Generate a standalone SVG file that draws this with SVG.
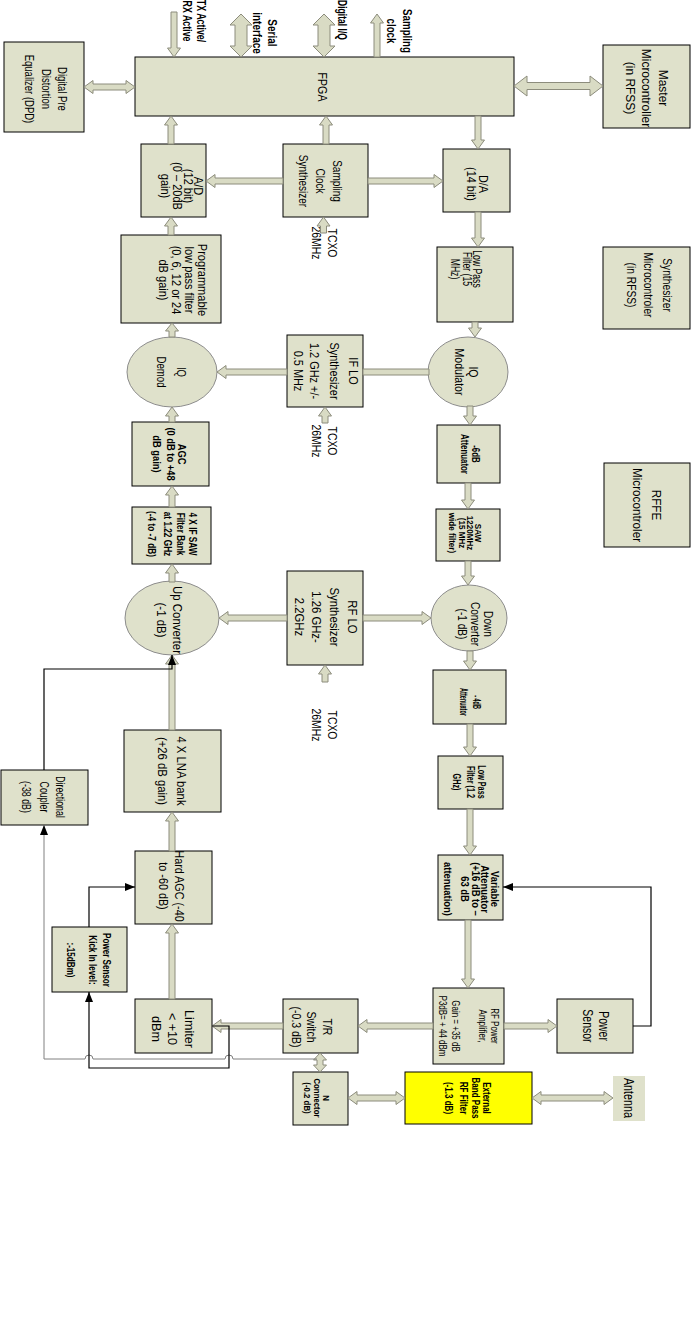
<svg xmlns="http://www.w3.org/2000/svg" width="691" height="1319" viewBox="0 0 691 1319">
<style>
.bx{fill:#dfe1cb;stroke:#000;stroke-width:1}
.el{fill:#dfe1cb;stroke:#8c8c8c;stroke-width:1}
.ar{fill:#d9dbc4;stroke:#8c8c7c;stroke-width:1}
.ln{fill:none;stroke:#000;stroke-width:1.2}
.gl{fill:none;stroke:#808080;stroke-width:1}
.t{font-family:"Liberation Sans",Arial,sans-serif;fill:#000;text-anchor:middle}
.b{font-weight:bold}
</style>
<defs>
<marker id="ah" markerWidth="10" markerHeight="8" refX="10" refY="4" orient="auto" markerUnits="userSpaceOnUse"><path d="M0,0 L10,4 L0,8 Z" fill="#000"/></marker>
</defs>
<rect width="691" height="1319" fill="#fff"/>

<g id="labels">
<g transform="translate(195,21) rotate(90) scale(0.68,1)"><text class="t b" font-size="13"><tspan x="0" y="-2.4">TX Active/</tspan><tspan x="0" y="12.1">RX Active</tspan></text></g>
<g transform="translate(266,33) rotate(90) scale(0.77,1)"><text class="t b" font-size="13"><tspan x="0" y="-2.4">Serial</tspan><tspan x="0" y="12.6">interface</tspan></text></g>
<g transform="translate(343,20) rotate(90) scale(0.66,1)"><text class="t b" font-size="13"><tspan x="0" y="4.6">Digital I/Q</tspan></text></g>
<g transform="translate(400,31) rotate(90) scale(0.75,1)"><text class="t b" font-size="13"><tspan x="0" y="-3.4">Sampling</tspan><tspan x="0" y="12.6">clock</tspan></text></g>
</g>

<g id="dpd"><rect class="bx" x="4" y="42" width="80" height="90"/><g transform="translate(46,89) rotate(90) scale(0.73,1)"><text class="t" font-size="13"><tspan x="0" y="-12.4">Digital Pre</tspan><tspan x="0" y="3.6">Distortion</tspan><tspan x="0" y="20.6">Equalizer (DPD)</tspan></text></g></g>
<g id="fpga"><rect class="bx" x="135" y="57" width="379" height="59"/><g transform="translate(323,87) rotate(90) scale(0.82,1)"><text class="t" font-size="13"><tspan x="0" y="4.6">FPGA</tspan></text></g></g>
<g id="master"><rect class="bx" x="603" y="45" width="87" height="83"/><g transform="translate(647,88) rotate(90) scale(0.92,1)"><text class="t" font-size="13"><tspan x="0" y="-12.4">Master</tspan><tspan x="0" y="4.6">Microcontroller</tspan><tspan x="0" y="20.6">(in RFSS)</tspan></text></g></g>
<g id="ad"><rect class="bx" x="141" y="144" width="65" height="73"/><g transform="translate(182,186) rotate(90) scale(0.92,1)"><text class="t" font-size="12"><tspan x="0" y="-11.8">A/D</tspan><tspan x="0" y="-1.8">(12 bit)</tspan><tspan x="0" y="9.2">(0 – 20dB</tspan><tspan x="0" y="21.2">gain)</tspan></text></g></g>
<g id="scs"><rect class="bx" x="283" y="144" width="85" height="73"/><g transform="translate(321,181) rotate(90) scale(0.77,1)"><text class="t" font-size="13"><tspan x="0" y="-12.4">Sampling</tspan><tspan x="0" y="4.6">Clock</tspan><tspan x="0" y="21.6">Synthesizer</tspan></text></g></g>
<g id="da"><rect class="bx" x="443" y="149" width="67" height="63"/><g transform="translate(477,184) rotate(90) scale(0.91,1)"><text class="t" font-size="12"><tspan x="0" y="-1.8">D/A</tspan><tspan x="0" y="10.2">(14 bit)</tspan></text></g></g>
<g id="tcxo1"><g transform="translate(325,243) rotate(90) scale(0.8,1)"><text class="t" font-size="13"><tspan x="0" y="-3.4">TCXO</tspan><tspan x="0" y="12.6">26MHz</tspan></text></g></g>
<g id="proglpf"><rect class="bx" x="121" y="235" width="100" height="88"/><g transform="translate(183,280) rotate(90) scale(0.92,1)"><text class="t" font-size="12"><tspan x="0" y="-14.8">Programmable</tspan><tspan x="0" y="-1.8">low pass filter</tspan><tspan x="0" y="11.2">(0, 6, 12 or 24</tspan><tspan x="0" y="24.2">dB gain)</tspan></text></g></g>
<g id="lpf15"><rect class="bx" x="437" y="247" width="76" height="75"/><g transform="translate(466,269) rotate(90) scale(0.72,1)"><text class="t" font-size="12"><tspan x="0" y="-6.8">Low Pass</tspan><tspan x="0" y="3.2">Filter (15</tspan><tspan x="0" y="15.2">MHz)</tspan></text></g></g>
<g id="synthmc"><rect class="bx" x="603" y="247" width="87" height="82"/><g transform="translate(649,285) rotate(90) scale(0.79,1)"><text class="t" font-size="13"><tspan x="0" y="-14.4">Synthesizer</tspan><tspan x="0" y="4.6">Microcontroler</tspan><tspan x="0" y="21.6">(in RFSS)</tspan></text></g></g>
<g id="iqdemod"><ellipse class="el" cx="172" cy="372" rx="45" ry="35"/><g transform="translate(172,372) rotate(90) scale(0.74,1)"><text class="t" font-size="13"><tspan x="0" y="-5.4">IQ</tspan><tspan x="0" y="14.6">Demod</tspan></text></g></g>
<g id="iflo"><rect class="bx" x="287" y="335" width="76" height="72"/><g transform="translate(326,371) rotate(90) scale(0.84,1)"><text class="t" font-size="13"><tspan x="0" y="-23.4">IF LO</tspan><tspan x="0" y="-4.4">Synthesizer</tspan><tspan x="0" y="15.6">1.2 GHz +/-</tspan><tspan x="0" y="31.6">0.5 MHz</tspan></text></g></g>
<g id="iqmod"><ellipse class="el" cx="468" cy="372" rx="40" ry="35"/><g transform="translate(466,372) rotate(90) scale(0.88,1)"><text class="t" font-size="12"><tspan x="0" y="-2.8">IQ</tspan><tspan x="0" y="11.2">Modulator</tspan></text></g></g>
<g id="tcxo2"><g transform="translate(325,441) rotate(90) scale(0.8,1)"><text class="t" font-size="13"><tspan x="0" y="-3.4">TCXO</tspan><tspan x="0" y="12.6">26MHz</tspan></text></g></g>
<g id="agc"><rect class="bx" x="132" y="422" width="77" height="64"/><g transform="translate(170,454) rotate(90) scale(0.85,1)"><text class="t b" font-size="11"><tspan x="0" y="-8.2">AGC</tspan><tspan x="0" y="2.9">(0 dB to +48</tspan><tspan x="0" y="16.9">dB  gain)</tspan></text></g></g>
<g id="att6"><rect class="bx" x="437" y="425" width="63" height="58"/><g transform="translate(470,454) rotate(90) scale(0.79,1)"><text class="t b" font-size="10"><tspan x="0" y="-2.5">-6dB</tspan><tspan x="0" y="9.5">Attenuator</tspan></text></g></g>
<g id="rffe"><rect class="bx" x="604" y="463" width="86" height="84"/><g transform="translate(647,505) rotate(90) scale(0.9,1)"><text class="t" font-size="13"><tspan x="0" y="-5.4">RFFE</tspan><tspan x="0" y="13.6">Microcontroler</tspan></text></g></g>
<g id="sawbank"><rect class="bx" x="132" y="507" width="79" height="57"/><g transform="translate(173,534) rotate(90) scale(0.75,1)"><text class="t b" font-size="11"><tspan x="0" y="-16.2">4 X IF SAW</tspan><tspan x="0" y="-4.2">Filter Bank</tspan><tspan x="0" y="8.9">at 1.22 GHz</tspan><tspan x="0" y="24.9">(-4 to -7 dB)</tspan></text></g></g>
<g id="saw"><rect class="bx" x="436" y="509" width="64" height="52"/><g transform="translate(466,533) rotate(90) scale(0.9,1)"><text class="t b" font-size="9"><tspan x="0" y="-8.9">SAW</tspan><tspan x="0" y="-0.9">1220MHz</tspan><tspan x="0" y="7.2">(15 MHz</tspan><tspan x="0" y="17.2">wide filter)</tspan></text></g></g>
<g id="upconv"><ellipse class="el" cx="172" cy="618" rx="47" ry="37"/><g transform="translate(170,620) rotate(90) scale(0.88,1)"><text class="t" font-size="13"><tspan x="0" y="-3.4">Up Converter</tspan><tspan x="0" y="12.6">(-1 dB)</tspan></text></g></g>
<g id="rflo"><rect class="bx" x="287" y="571" width="76" height="94"/><g transform="translate(326,617) rotate(90) scale(0.87,1)"><text class="t" font-size="13"><tspan x="0" y="-22.4">RF LO</tspan><tspan x="0" y="-4.4">Synthesizer</tspan><tspan x="0" y="13.6">1.26 GHz-</tspan><tspan x="0" y="30.6">2.2GHz</tspan></text></g></g>
<g id="downconv"><ellipse class="el" cx="469" cy="618" rx="38" ry="33"/><g transform="translate(475,624) rotate(90) scale(0.84,1)"><text class="t" font-size="12"><tspan x="0" y="-8.8">Down</tspan><tspan x="0" y="4.2">Converter</tspan><tspan x="0" y="17.2">(-1 dB)</tspan></text></g></g>
<g id="tcxo3"><g transform="translate(325,725) rotate(90) scale(0.8,1)"><text class="t" font-size="13"><tspan x="0" y="-3.4">TCXO</tspan><tspan x="0" y="12.6">26MHz</tspan></text></g></g>
<g id="att4"><rect class="bx" x="433" y="670" width="73" height="54"/><g transform="translate(470,702) rotate(90) scale(0.55,1)"><text class="t b" font-size="10"><tspan x="0" y="-3.5">- 4dB</tspan><tspan x="0" y="10.5">Attenuator</tspan></text></g></g>
<g id="lna"><rect class="bx" x="124" y="730" width="97" height="82"/><g transform="translate(172,771) rotate(90) scale(0.87,1)"><text class="t" font-size="13"><tspan x="0" y="-5.4">4 X LNA bank</tspan><tspan x="0" y="13.6">(+26  dB gain)</tspan></text></g></g>
<g id="coupler"><rect class="bx" x="1" y="770" width="87" height="55"/><g transform="translate(44,797) rotate(90) scale(0.68,1)"><text class="t" font-size="13"><tspan x="0" y="-12.4">Directional</tspan><tspan x="0" y="3.6">Coupler</tspan><tspan x="0" y="21.6">(-38 dB)</tspan></text></g></g>
<g id="lpf12"><rect class="bx" x="438" y="756" width="65" height="53"/><g transform="translate(470,782) rotate(90) scale(0.66,1)"><text class="t b" font-size="11"><tspan x="0" y="-8.2">Low Pass</tspan><tspan x="0" y="2.9">Filter (1.2</tspan><tspan x="0" y="16.9">GHz)</tspan></text></g></g>
<g id="hardagc"><rect class="bx" x="135" y="851" width="77" height="73"/><g transform="translate(172,886) rotate(90) scale(0.83,1)"><text class="t" font-size="13"><tspan x="0" y="-3.4">Hard AGC (-40</tspan><tspan x="0" y="12.6">to -60 dB)</tspan></text></g></g>
<g id="varatt"><rect class="bx" x="438" y="855" width="65" height="65"/><g transform="translate(471,889) rotate(90) scale(0.9,1)"><text class="t b" font-size="10.5"><tspan x="0" y="-20.3">Variable</tspan><tspan x="0" y="-10.3">Attenuator</tspan><tspan x="0" y="-1.3">(+16  dB to –</tspan><tspan x="0" y="9.7">63 dB</tspan><tspan x="0" y="26.7">attenuation)</tspan></text></g></g>
<g id="pskick"><rect class="bx" x="52" y="927" width="75" height="65"/><g transform="translate(89,960) rotate(90) scale(0.81,1)"><text class="t b" font-size="10"><tspan x="0" y="-14.5">Power Sensor</tspan><tspan x="0" y="0">Kick In  level:</tspan><tspan x="0" y="22.5">:-15dBm)</tspan></text></g></g>
<g id="limiter"><rect class="bx" x="135" y="999" width="77" height="54"/><g transform="translate(173,1029) rotate(90) scale(0.97,1)"><text class="t" font-size="13"><tspan x="0" y="-12.4">Limiter</tspan><tspan x="0" y="4.6">&lt; +10</tspan><tspan x="0" y="20.6">dBm</tspan></text></g></g>
<g id="trswitch"><rect class="bx" x="283" y="999" width="75" height="54"/><g transform="translate(312,1027) rotate(90) scale(0.81,1)"><text class="t" font-size="13"><tspan x="0" y="-11.4">T/R</tspan><tspan x="0" y="4.6">Switch</tspan><tspan x="0" y="19.6">(-0.3 dB)</tspan></text></g></g>
<g id="pa"><rect class="bx" x="433" y="988" width="71" height="76"/><g transform="translate(468,1026) rotate(90) scale(0.8,1)"><text class="t" font-size="10"><tspan x="0" y="-23.5">RF  Power</tspan><tspan x="0" y="-11.5">Amplifier,</tspan><tspan x="0" y="16.5">Gain = +35 dB</tspan><tspan x="0" y="29.5">P3dB= + 44 dBm</tspan></text></g></g>
<g id="psensor"><rect class="bx" x="557" y="999" width="76" height="54"/><g transform="translate(596,1026) rotate(90) scale(0.7,1)"><text class="t" font-size="15"><tspan x="0" y="-2.75">Power</tspan><tspan x="0" y="13.25">Sensor</tspan></text></g></g>
<g id="nconn"><rect class="bx" x="293" y="1072" width="55" height="53"/><g transform="translate(316,1098) rotate(90) scale(0.87,1)"><text class="t b" font-size="9"><tspan x="0" y="-6.85">N</tspan><tspan x="0" y="2.15">Connector</tspan><tspan x="0" y="12.15">(-0.2 dB)</tspan></text></g></g>
<g id="extbpf"><rect class="bx" x="405" y="1072" width="127" height="52" style="fill:#ffff00"/><g transform="translate(468,1098) rotate(90) scale(0.73,1)"><text class="t b" font-size="11"><tspan x="0" y="-15.2">External</tspan><tspan x="0" y="-4.2">Band Pass</tspan><tspan x="0" y="7.9">RF Filter</tspan><tspan x="0" y="22.9">(-1.3 dB)</tspan></text></g></g>
<g id="antenna"><rect x="613" y="1076" width="32" height="45" fill="#dfe1cb"/><g transform="translate(629,1098) rotate(90) scale(0.72,1)"><text class="t" font-size="15"><tspan x="0" y="5.25">Antenna</tspan></text></g></g>

<g id="connectors">
<path class="ar" d="M171 12 H177 V48 H180.5 L174 57 L167.5 48 H171 Z"/>
<path class="ar" d="M241 14 L252 25 H247 V46 H252 L241 57 L230 46 H235 V25 H230 Z"/>
<path class="ar" d="M324 14 L335 25 H330 V46 H335 L324 57 L313 46 H318 V25 H313 Z"/>
<path class="ar" d="M374 57 H380 V23 H383.5 L377 14 L370.5 23 H374 Z"/>
<path class="ar" d="M84 87 L93 80.5 V84 H126 V80.5 L135 87 L126 93.5 V90 H93 V93.5 Z"/>
<path class="ar" d="M514 86 L527 76 V82.5 H590 V76 L603 86 L590 96 V89.5 H527 V96 Z"/>
<path class="ar" d="M168 144 H174 V125 H177.5 L171 116 L164.5 125 H168 Z"/>
<path class="ar" d="M323 144 H329 V125 H332.5 L326 116 L319.5 125 H323 Z"/>
<path class="ar" d="M475 116 H481 V140 H484.5 L478 149 L471.5 140 H475 Z"/>
<path class="ar" d="M283 178 V184 H215 V187.5 L206 181 L215 174.5 V178 Z"/>
<path class="ar" d="M368 178 V184 H434 V187.5 L443 181 L434 174.5 V178 Z"/>
<path class="ar" d="M320.5 233 H326.5 V226 H330 L323.5 217 L317 226 H320.5 Z"/>
<path class="ar" d="M168 235 H174 V226 H177.5 L171 217 L164.5 226 H168 Z"/>
<path class="ar" d="M475 212 H481 V238 H484.5 L478 247 L471.5 238 H475 Z"/>
<path class="ar" d="M472 322 H478 V328 H481.5 L475 337 L468.5 328 H472 Z"/>
<path class="ar" d="M169 337 H175 V331 H178.5 L172 323 L165.5 331 H169 Z"/>
<path class="ar" d="M287 369 V375 H226 V378.5 L217 372 L226 365.5 V369 Z"/>
<path class="ar" d="M363 369 H429 V375 H363 Z"/>
<path class="ar" d="M322 423 H328 V416 H331.5 L325 407 L318.5 416 H322 Z"/>
<path class="ar" d="M169 422 H175 V416 H178.5 L172 407 L165.5 416 H169 Z"/>
<path class="ar" d="M467 406 H473 V416 H476.5 L470 425 L463.5 416 H467 Z"/>
<path class="ar" d="M169 507 H175 V495 H178.5 L172 486 L165.5 495 H169 Z"/>
<path class="ar" d="M465 483 H471 V500 H474.5 L468 509 L461.5 500 H465 Z"/>
<path class="ar" d="M169 582 H175 V573 H178.5 L172 564 L165.5 573 H169 Z"/>
<path class="ar" d="M465 561 H471 V576 H474.5 L468 585 L461.5 576 H465 Z"/>
<path class="ar" d="M287 615 V621 H228 V624.5 L219 618 L228 611.5 V615 Z"/>
<path class="ar" d="M363 615 V621 H422 V624.5 L431 618 L422 611.5 V615 Z"/>
<path class="ar" d="M322 682 H328 V674 H331.5 L325 665 L318.5 674 H322 Z"/>
<path class="ar" d="M467 651 H473 V661 H476.5 L470 670 L463.5 661 H467 Z"/>
<path class="ar" d="M169 730 H175 V664 H178.5 L172 655 L165.5 664 H169 Z"/>
<path class="ar" d="M467 724 H473 V747 H476.5 L470 756 L463.5 747 H467 Z"/>
<path class="ar" d="M169 851 H175 V821 H178.5 L172 812 L165.5 821 H169 Z"/>
<path class="ar" d="M467 809 H473 V846 H476.5 L470 855 L463.5 846 H467 Z"/>
<path class="ar" d="M169 999 H175 V933 H178.5 L172 924 L165.5 933 H169 Z"/>
<path class="ar" d="M465 920 H471 V979 H474.5 L468 988 L461.5 979 H465 Z"/>
<path class="ar" d="M433 1023 V1029 H367 V1032.5 L358 1026 L367 1019.5 V1023 Z"/>
<path class="ar" d="M504 1023 V1029 H548 V1032.5 L557 1026 L548 1019.5 V1023 Z"/>
<path class="ar" d="M283 1023 V1029 H221 V1032.5 L212 1026 L221 1019.5 V1023 Z"/>
<path class="ar" d="M320 1053 L326.5 1060 H323 V1065 H326.5 L320 1072 L313.5 1065 H317 V1060 H313.5 Z"/>
<path class="ar" d="M348 1098 L357 1091.5 V1095 H396 V1091.5 L405 1098 L396 1104.5 V1101 H357 V1104.5 Z"/>
<path class="ar" d="M532 1098 L541 1091.5 V1095 H604 V1091.5 L613 1098 L604 1104.5 V1101 H541 V1104.5 Z"/>
<path class="gl" d="M317 1059 H233 A4 4 0 0 0 225 1059 H93 A4 4 0 0 0 85 1059 H44 V825" marker-end="url(#ah)"/>
<path class="ln" d="M44 770 V669 H172 V655" marker-end="url(#ah)"/>
<path class="ln" d="M89 927 V887 H135" marker-end="url(#ah)"/>
<path class="ln" d="M212 1026 H229 V1068 H89 V992" marker-end="url(#ah)"/>
<path class="ln" d="M633 1026 H651 V887 H503" marker-end="url(#ah)"/>
</g>
</svg>
